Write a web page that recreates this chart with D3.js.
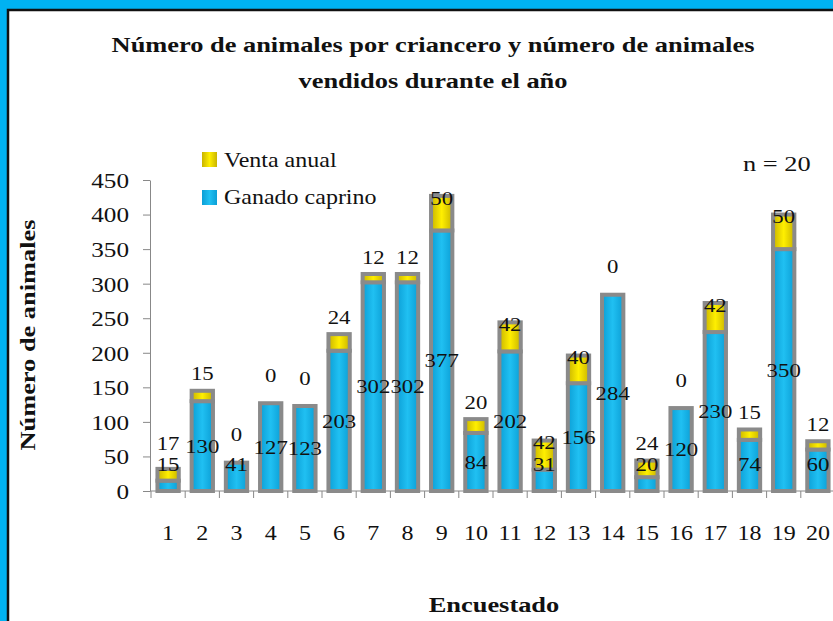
<!DOCTYPE html>
<html><head><meta charset="utf-8">
<script src="https://cdn.jsdelivr.net/npm/d3@7"></script>
<style>html,body{margin:0;padding:0;background:#00B2F2;overflow:hidden}svg{display:block}</style>
</head><body>
<svg id="c" width="833" height="621" font-family="Liberation Serif"></svg>
<script>
const categories = ["1","2","3","4","5","6","7","8","9","10","11","12","13","14","15","16","17","18","19","20"];
const ganadoCaprino = [15,130,41,127,123,203,302,302,377,84,202,31,156,284,20,120,230,74,350,60];
const ventaAnual = [17,15,0,0,0,24,12,12,50,20,42,42,40,0,24,0,42,15,50,12];
const yTicks = [0,50,100,150,200,250,300,350,400,450];
const titleLines = ["Número de animales por criancero y número de animales","vendidos durante el año"];
const seriesNames = ["Venta anual","Ganado caprino"];

const SX = 1.2; // glyph widening to match the reference typeface
const FONT = "Liberation Serif";
const svg = d3.select("#c");
const defs = svg.append("defs");
function grad(id, edge, mid){
  const g = defs.append("linearGradient").attr("id",id).attr("x1","0").attr("x2","1").attr("y1","0").attr("y2","0");
  g.append("stop").attr("offset","0%").attr("stop-color",edge);
  g.append("stop").attr("offset","50%").attr("stop-color",mid);
  g.append("stop").attr("offset","100%").attr("stop-color",edge);
}
grad("gBlue","#0C9FD6","#20C0F2");
grad("gYel","#C9B400","#FFEF00");

// frame
svg.append("rect").attr("x",0).attr("y",0).attr("width",833).attr("height",621).attr("fill","#00B2F2");
svg.append("rect").attr("x",8).attr("y",10).attr("width",900).attr("height",700)
  .attr("fill","#fff").attr("stroke","#111").attr("stroke-width",2.5);

function txt(parent, x, y, s, size, weight, anchor, rot){
  return parent.append("text")
    .attr("transform", `translate(${x},${y})` + (rot?` rotate(${rot})`:"") + ` scale(${SX},1)`)
    .attr("text-anchor", anchor||"middle")
    .attr("font-family",FONT).attr("font-size",size).attr("font-weight",weight||"normal")
    .attr("fill","#111").text(s);
}

// title
titleLines.forEach((l,i)=> txt(svg, 433, 52 + i*36, l, 22, "bold"));

// scales
const x = d3.scaleBand().domain(categories).range([151, 151 + 20*34.2]).paddingInner(0.26).paddingOuter(0.13);
const y = d3.scaleLinear().domain([0,450]).range([491,180]);
const y0 = y(0);

// axes
const yAxis = svg.append("g").attr("transform",`translate(150,0)`)
  .call(d3.axisLeft(y).tickValues(yTicks).tickSize(7).tickSizeOuter(0));
yAxis.attr("font-family",FONT).attr("font-size",21);
yAxis.select(".domain").attr("stroke","#888");
yAxis.selectAll(".tick line").attr("stroke","#888");
yAxis.selectAll(".tick text").attr("x",null).attr("dy","0.35em")
  .attr("transform",`translate(-21,0) scale(${SX},1)`).attr("fill","#111");

const xAxis = svg.append("g").attr("transform",`translate(0,${y0})`)
  .call(d3.axisBottom(x).tickSize(0).tickSizeOuter(0));
xAxis.attr("font-family",FONT).attr("font-size",20);
xAxis.select(".domain").attr("stroke","#888").attr("d",`M150,0H840`);
xAxis.selectAll(".tick text").attr("y",null).attr("dy","0.35em")
  .attr("transform",`translate(0,42) scale(${SX},1)`).attr("fill","#111");
// category boundary ticks
const step = x.step();
const bounds = d3.range(categories.length+1).map(i => x(categories[0]) - step*x.paddingOuter() + i*step);
xAxis.selectAll(".btick").data(bounds).join("line").attr("class","btick")
  .attr("x1",d=>d).attr("x2",d=>d).attr("y1",0).attr("y2",7).attr("stroke","#888");

// bars
const bw = x.bandwidth();
const data = categories.map((c,i)=>({c, g:ganadoCaprino[i], v:ventaAnual[i]}));
const gb = svg.append("g");
data.forEach(d=>{
  const bx = x(d.c);
  gb.append("rect").attr("x",bx+2).attr("width",bw-4)
    .attr("y",y(d.g)).attr("height",y0-y(d.g))
    .attr("fill","url(#gBlue)").attr("stroke","#8A8A8A").attr("stroke-width",4);
  if(d.v>0){
    gb.append("rect").attr("x",bx+2).attr("width",bw-4)
      .attr("y",y(d.g+d.v)).attr("height",y(d.g)-y(d.g+d.v))
      .attr("fill","url(#gYel)").attr("stroke","#8A8A8A").attr("stroke-width",4);
  }
});

// labels
const gl = svg.append("g");
data.forEach(d=>{
  const cx = x(d.c) + bw/2;
  const gy = Math.min(y(d.g/2), y0-27);
  txt(gl, cx, gy, d.g, 19).attr("dy","0.35em");
  const top = y(d.g+d.v);
  let vy = d.v===0 ? top-28 : (d.v<40 ? top-17 : top+2);
  vy = Math.min(vy, gy-21);
  txt(gl, cx, vy, d.v, 19).attr("dy","0.35em");
});

// axis titles
txt(svg, 494, 612, "Encuestado", 22, "bold");
txt(svg, 35, 335, "Número de animales", 22, "bold", "middle", -90);

// legend
const lg = svg.append("g");
lg.append("rect").attr("x",202).attr("y",152).attr("width",15).attr("height",15).attr("fill","url(#gYel)");
lg.append("rect").attr("x",202).attr("y",190).attr("width",15).attr("height",15).attr("fill","url(#gBlue)");
txt(lg, 224, 167, seriesNames[0], 20, "normal", "start");
txt(lg, 224, 204, seriesNames[1], 20, "normal", "start");

txt(svg, 743, 171, "n = 20", 22, "normal", "start");
</script>
</body></html>
